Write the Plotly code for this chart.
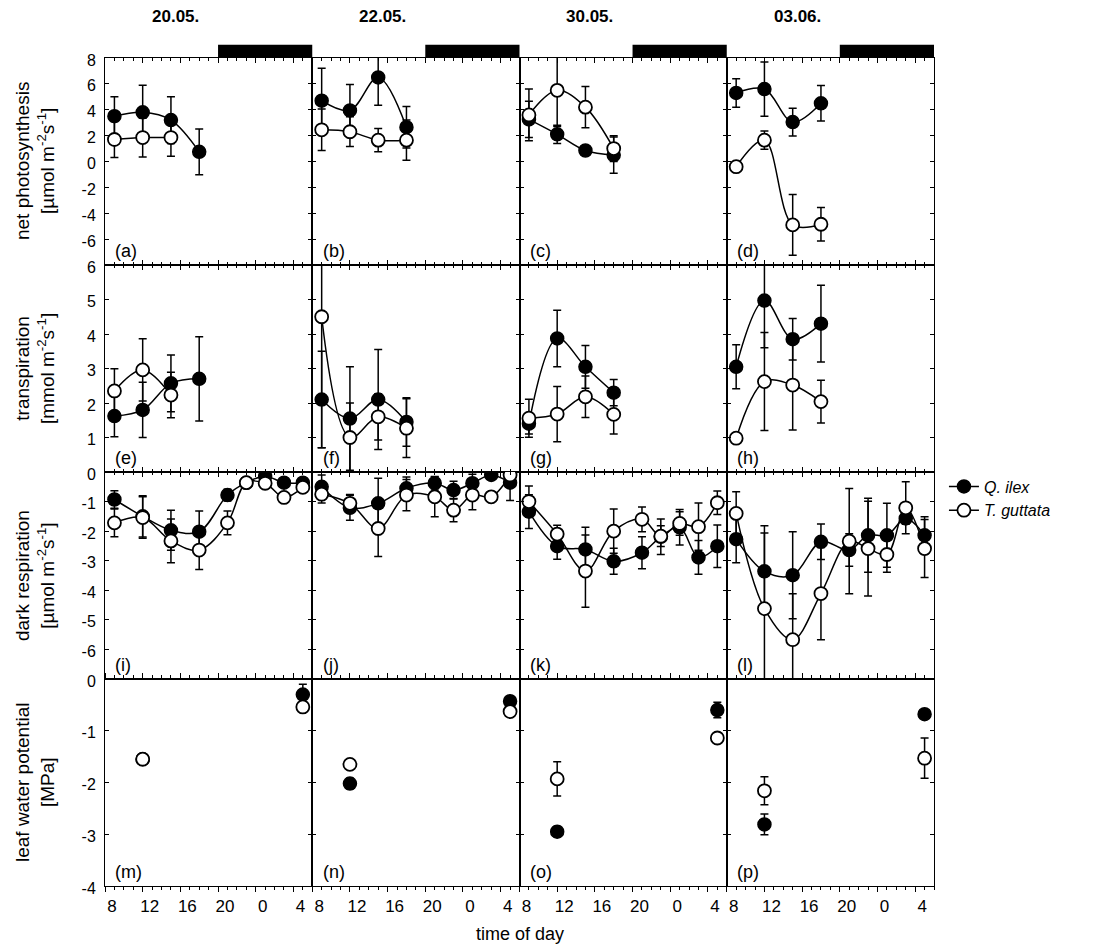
import plotly.graph_objects as go
from plotly.subplots import make_subplots

# ---------------- data ----------------
dates = ["20.05.", "22.05.", "30.05.", "03.06."]
panel_letters = list("abcdefghijklmnop")

t_day = [9, 12, 15, 18]                       # gas exchange, daytime
t_resp = [9, 12, 15, 18, 21, 23, 25, 27, 29]  # dark respiration (hours, 25 = 1 h next day)
t_lwp = [12, 29]                              # leaf water potential (noon, predawn)

x_tickvals = [8, 12, 16, 20, 24, 28]
x_ticktext = ["8", "12", "16", "20", "0", "4"]
x_range = [8, 30]
night_start, night_end = 20, 30

# net photosynthesis
qi_A = [[3.5, 3.8, 3.2, 0.75], [4.7, 3.95, 6.5, 2.65], [3.25, 2.1, 0.85, 0.5], [5.3, 5.6, 3.05, 4.5]]
qi_A_err = [[1.5, 2.1, 1.8, 1.77], [2.5, 2.0, 2.15, 1.6], [1.4, 0.7, 0.35, 1.4], [1.1, 2.1, 1.07, 1.37]]
tg_A = [[1.7, 1.85, 1.85, None], [2.45, 2.3, 1.65, 1.65], [3.6, 5.5, 4.2, 1.0], [-0.4, 1.65, -4.9, -4.85]]
tg_A_err = [[1.4, 1.5, 1.45, None], [1.6, 1.15, 0.9, 1.55], [2.0, 2.8, 1.6, 1.0], [0.3, 0.7, 2.35, 1.3]]

# transpiration
qi_E = [[1.62, 1.8, 2.57, 2.7], [2.1, 1.55, 2.1, 1.45], [1.4, 3.87, 3.05, 2.3], [3.05, 4.97, 3.85, 4.3]]
qi_E_err = [[0.6, 0.8, 0.82, 1.22], [1.4, 1.5, 1.45, 0.7], [0.3, 0.82, 0.62, 0.38], [0.64, 1.37, 0.6, 1.11]]
tg_E = [[2.35, 2.96, 2.23, None], [4.5, 1.0, 1.6, 1.27], [1.56, 1.68, 2.18, 1.67], [0.98, 2.62, 2.52, 2.04]]
tg_E_err = [[0.64, 0.9, 0.66, None], [3.8, 1.0, 0.67, 0.85], [0.55, 0.8, 0.6, 0.57], [0.1, 1.42, 1.3, 0.62]]

# dark respiration
qi_R = [[-0.93, -1.5, -1.97, -2.02, -0.78, -0.36, -0.14, -0.36, -0.36],
        [-0.5, -1.21, -1.06, -0.55, -0.38, -0.61, -0.38, -0.1, -0.36],
        [-1.34, -2.51, -2.62, -3.02, -2.73, -2.19, -1.87, -2.89, -2.51],
        [-2.27, -3.36, -3.49, -2.36, -2.64, -2.14, -2.14, -1.57, -2.14]]
qi_R_err = [[0.3, 0.7, 0.68, 0.7, 0.2, 0.15, 0.15, 0.1, 0.1],
            [0.4, 0.42, 0.85, 0.38, 0.23, 0.3, 0.3, 0.1, 0.6],
            [0.57, 0.44, 0.75, 0.44, 0.54, 0.6, 0.6, 0.57, 0.72],
            [0.8, 1.3, 1.47, 0.6, 0.55, 1.25, 1.08, 0.2, 0.63]]
tg_R = [[-1.72, -1.54, -2.33, -2.64, -1.72, -0.36, -0.38, -0.86, -0.52],
        [-0.75, -1.06, -1.91, -0.78, -0.84, -1.29, -0.78, -0.84, -0.1],
        [-1.0, -2.1, -3.35, -2.0, -1.6, -2.17, -1.74, -1.85, -1.04],
        [-1.4, -4.62, -5.67, -4.11, -2.34, -2.59, -2.79, -1.21, -2.59]]
tg_R_err = [[0.47, 0.7, 0.74, 0.66, 0.4, 0.1, 0.15, 0.1, 0.1],
            [0.3, 0.3, 0.95, 0.53, 0.67, 0.39, 0.5, 0.15, 0.1],
            [0.53, 0.3, 1.22, 0.75, 0.42, 0.35, 0.4, 0.8, 0.4],
            [0.73, 2.8, 1.55, 1.56, 1.78, 1.6, 0.6, 0.88, 0.98]]

# leaf water potential
qi_L = [[-1.55, -0.3], [-2.02, -0.43], [-2.95, -0.6], [-2.81, -0.68]]
qi_L_err = [[0.05, 0.2], [0.1, 0.05], [0.1, 0.15], [0.2, 0.05]]
tg_L = [[-1.55, -0.54], [-1.65, -0.63], [-1.93, -1.14], [-2.16, -1.53]]
tg_L_err = [[0.05, 0.05], [0.05, 0.05], [0.33, 0.1], [0.27, 0.39]]

row_titles = ["net photosynthesis<br>[µmol m<sup>-2</sup>s<sup>-1</sup>]",
              "transpiration<br>[mmol m<sup>-2</sup>s<sup>-1</sup>]",
              "dark respiration<br>[µmol m<sup>-2</sup>s<sup>-1</sup>]",
              "leaf water potential<br>[MPa]"]
y_ranges = [[-8, 8], [0, 6], [-7, 0], [-4, 0]]
y_tickvals = [list(range(-8, 9, 2)), list(range(0, 7)), list(range(-7, 1)), list(range(-4, 1))]
y_ticktext = [["" if v == -8 else str(v) for v in y_tickvals[0]],
              [str(v) for v in y_tickvals[1]],
              ["" if v in (0, -7) else str(v) for v in y_tickvals[2]],
              [str(v) for v in y_tickvals[3]]]

rows_data = [
    (t_day, qi_A, qi_A_err, tg_A, tg_A_err, True),
    (t_day, qi_E, qi_E_err, tg_E, tg_E_err, True),
    (t_resp, qi_R, qi_R_err, tg_R, tg_R_err, True),
    (t_lwp, qi_L, qi_L_err, tg_L, tg_L_err, False),
]

FONT = "Liberation Sans, Arial, sans-serif"

fig = make_subplots(rows=4, cols=4, horizontal_spacing=0, vertical_spacing=0)

for r, (tt, qi, qie, tg, tge, connect) in enumerate(rows_data, start=1):
    for c in range(1, 5):
        n = (r - 1) * 4 + c
        mode = "lines+markers" if connect else "markers"
        err_style = dict(type="data", visible=True, color="black", thickness=1.5, width=4)
        fig.add_trace(go.Scatter(
            x=tt, y=qi[c - 1], mode=mode, name="<i>Q. ilex</i>", legendgroup="qi",
            showlegend=(n == 1),
            error_y=dict(array=qie[c - 1], **err_style),
            line=dict(color="black", width=1.5, shape="spline"),
            marker=dict(symbol="circle", size=13, color="black", line=dict(color="black", width=1.5)),
        ), row=r, col=c)
        fig.add_trace(go.Scatter(
            x=tt, y=tg[c - 1], mode=mode, name="<i>T. guttata</i>", legendgroup="tg",
            showlegend=(n == 1),
            error_y=dict(array=tge[c - 1], **err_style),
            line=dict(color="black", width=1.5, shape="spline"),
            marker=dict(symbol="circle", size=13, color="white", line=dict(color="black", width=1.8)),
        ), row=r, col=c)

        bottom = (r == 4)
        fig.update_xaxes(
            range=x_range, tickmode="array", tickvals=x_tickvals, ticktext=x_ticktext,
            showticklabels=bottom, ticks="outside" if bottom else "inside", ticklen=5,
            tickcolor="black", tickwidth=1, mirror="ticks", showline=True, linecolor="black",
            linewidth=1, showgrid=False, zeroline=False, ticklabelshift=7,
            tickfont=dict(family=FONT, size=17, color="black"),
            minor=dict(tickmode="linear", tick0=8, dtick=1, ticks="outside" if bottom else "inside",
                       ticklen=3, tickcolor="black", showgrid=False),
            row=r, col=c)
        fig.update_yaxes(
            range=y_ranges[r - 1], tickmode="array", tickvals=y_tickvals[r - 1],
            ticktext=y_ticktext[r - 1], showticklabels=(c == 1), ticks="inside", ticklen=4,
            tickcolor="black", mirror="ticks", showline=True, linecolor="black", linewidth=1,
            showgrid=False, zeroline=False, ticklabelstandoff=5, ticklabelshift=2,
            tickfont=dict(family=FONT, size=16, color="black"),
            row=r, col=c)

        xd = "x domain" if n == 1 else f"x{n} domain"
        yd = "y domain" if n == 1 else f"y{n} domain"
        fig.add_annotation(text=f"({panel_letters[n - 1]})", xref=xd, yref=yd, x=0.04, y=0.01,
                           xanchor="left", yanchor="bottom", showarrow=False,
                           font=dict(family=FONT, size=18, color="black"))

# night bars and date headings
for c in range(1, 5):
    xd = "x domain" if c == 1 else f"x{c} domain"
    yd = "y domain" if c == 1 else f"y{c} domain"
    span = x_range[1] - x_range[0]
    fig.add_shape(type="rect", xref=xd, yref=yd,
                  x0=(night_start - x_range[0]) / span, x1=(night_end - x_range[0]) / span,
                  y0=1.0, y1=1.064, fillcolor="black", line=dict(width=0), layer="above")
    fig.add_annotation(text=f"<b>{dates[c - 1]}</b>", xref=xd, yref=yd, x=0.34, y=1.2,
                       xanchor="center", yanchor="middle", showarrow=False,
                       font=dict(family=FONT, size=17, color="black"))

# row titles
for r in range(1, 5):
    n = (r - 1) * 4 + 1
    yd = "y domain" if n == 1 else f"y{n} domain"
    fig.add_annotation(text=row_titles[r - 1], xref="paper", yref=yd, x=-0.085, y=0.5,
                       xanchor="center", yanchor="middle", textangle=-90, showarrow=False,
                       font=dict(family=FONT, size=19, color="black"))

fig.add_annotation(text="time of day", xref="paper", yref="paper", x=0.5, y=-0.058,
                   xanchor="center", yanchor="middle", showarrow=False,
                   font=dict(family=FONT, size=18, color="black"))

fig.update_layout(
    width=1115, height=948,
    margin=dict(l=105, r=181, t=58, b=62),
    paper_bgcolor="white", plot_bgcolor="white",
    font=dict(family=FONT, color="black"),
    legend=dict(x=1.012, y=0.468, xanchor="left", yanchor="middle",
                font=dict(family=FONT, size=16, color="black"),
                bgcolor="rgba(0,0,0,0)", tracegroupgap=0),
)

fig.write_html("out.html", config={"displayModeBar": False},
               post_script="document.body.style.margin='0px';document.body.style.overflow='hidden';")
